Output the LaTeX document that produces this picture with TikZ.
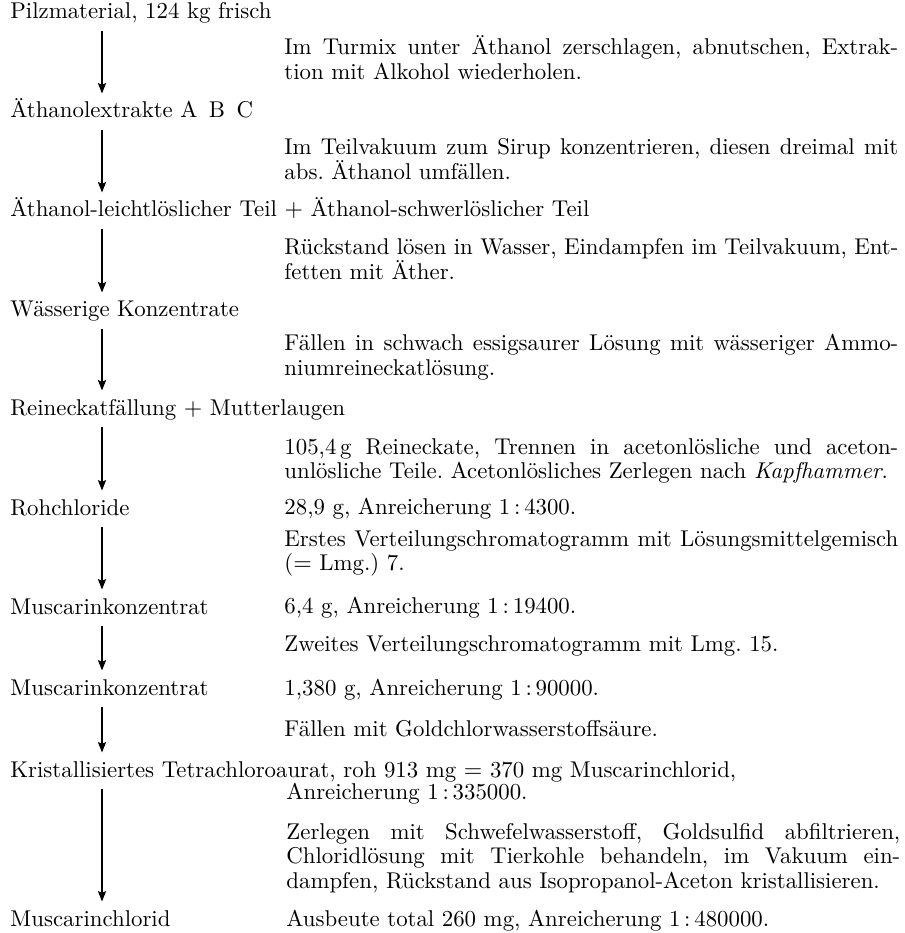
\documentclass[tikz,border=0pt]{standalone}
\usetikzlibrary{arrows.meta}
\newcommand{\notefont}{\fontsize{10.5}{11.4}\selectfont\frenchspacing\tolerance=9999\hyphenpenalty=10000\exhyphenpenalty=10000\relax}
\newcommand{\verh}[1]{1\,:\,#1}
\begin{document}
\begin{tikzpicture}[x=0.46pt,y=0.46pt,yscale=-1,xscale=1,
		stage/.style={anchor=base west,inner sep=0pt,font=\notefont,text height=7.5pt,text depth=2.2pt},
		note/.style={anchor=base west,inner sep=0pt,font=\notefont,text width=282.4pt,align=justify},
		flow/.style={-{Stealth[length=4.8pt,width=3.8pt,inset=0.9pt]},line width=0.5pt,shorten <=3pt,shorten >=3.6pt}]
			\useasboundingbox (0,0) rectangle (904,933);
			\coordinate (ax) at (102,0);
			
			% Text Node
			\node (pilz) at (10,19) [stage] {Pilzmaterial, 124 kg frisch};
			% Text Node
			\node (extrakt) at (10,118) [stage] {Äthanolextrakte A\enspace B\enspace C};
			% Text Node
			\node (leicht) at (10,217) [stage] {Äthanol-leichtlöslicher Teil $+$ Äthanol-schwerlöslicher Teil};
			% Text Node
			\node (waess) at (10,317) [stage] {Wässerige Konzentrate};
			% Text Node
			\node (reineck) at (10,415) [stage] {Reineckatfällung $+$ Mutterlaugen};
			% Text Node
			\node (roh) at (10,515) [stage] {Rohchloride};
			% Text Node
			\node (muscA) at (10,614) [stage] {Muscarinkonzentrat};
			% Text Node
			\node (muscB) at (10,695) [stage] {Muscarinkonzentrat};
			% Text Node
			\node (krist) at (10,777) [stage] {Kristallisiertes Tetrachloroaurat, roh 913 mg $=$ 370 mg Muscarinchlorid,};
			% Text Node
			\node (chlorid) at (10,926) [stage] {Muscarinchlorid};
			
			% Text Node
			\node (schritt1) at (284,55) [note] {Im Turmix unter Äthanol zerschlagen, abnutschen, Extrak-\linebreak tion mit Alkohol wiederholen.};
			% Text Node
			\node (schritt2) at (284,155) [note] {Im Teilvakuum zum Sirup konzentrieren, diesen dreimal mit\linebreak abs. Äthanol umfällen.};
			% Text Node
			\node (schritt3) at (284,255) [note] {Rückstand lösen in Wasser, Eindampfen im Teilvakuum, Ent-\linebreak fetten mit Äther.};
			% Text Node
			\node (schritt4) at (284,351) [note] {Fällen in schwach essigsaurer Lösung mit wässeriger Ammo-\linebreak niumreineckatlösung.};
			% Text Node
			\node (schritt5) at (284,454) [note] {105,4\,g Reineckate, Trennen in acetonlösliche und aceton-\linebreak unlösliche Teile. Acetonlösliches Zerlegen nach \textit{Kapfhammer}.};
			% Text Node
			\node (ausb1) at (284,514) [note] {28,9 g, Anreicherung \verh{4300}.};
			% Text Node
			\node (schritt6) at (284,546) [note] {Erstes Verteilungschromatogramm mit Lösungsmittelgemisch\linebreak ($=$ Lmg.) 7.};
			% Text Node
			\node (ausb2) at (284,613) [note] {6,4 g, Anreicherung \verh{19400}.};
			% Text Node
			\node (schritt7) at (284,651) [note] {Zweites Verteilungschromatogramm mit Lmg. 15.};
			% Text Node
			\node (ausb3) at (284,695) [note] {1,380 g, Anreicherung \verh{90000}.};
			% Text Node
			\node (schritt8) at (284,736) [note] {Fällen mit Goldchlorwasserstoffsäure.};
			% Text Node
			\node (ausb4) at (286,799) [note] {Anreicherung \verh{335000}.};
			% Text Node
			\node (schritt9) at (286,839) [note] {\parfillskip=0pt Zerlegen mit Schwefelwasserstoff, Goldsulfid abfiltrieren,\linebreak Chloridlösung mit Tierkohle behandeln, im Vakuum ein-\linebreak dampfen, Rückstand aus Isopropanol-Aceton kristallisieren.};
			% Text Node
			\node (ausb5) at (286,926) [note] {Ausbeute total 260 mg, Anreicherung \verh{480000}.};
			
			%Straight Lines
			\draw[flow] (pilz.south -| ax) -- (extrakt.north -| ax);
			%Straight Lines
			\draw[flow] (extrakt.south -| ax) -- (leicht.north -| ax);
			%Straight Lines
			\draw[flow] (leicht.south -| ax) -- (waess.north -| ax);
			%Straight Lines
			\draw[flow] (waess.south -| ax) -- (reineck.north -| ax);
			%Straight Lines
			\draw[flow] (reineck.south -| ax) -- (roh.north -| ax);
			%Straight Lines
			\draw[flow] (roh.south -| ax) -- (muscA.north -| ax);
			%Straight Lines
			\draw[flow] (muscA.south -| ax) -- (muscB.north -| ax);
			%Straight Lines
			\draw[flow] (muscB.south -| ax) -- (krist.north -| ax);
			%Straight Lines
			\draw[flow] (krist.south -| ax) -- (chlorid.north -| ax);
			
		\end{tikzpicture}
\end{document}
